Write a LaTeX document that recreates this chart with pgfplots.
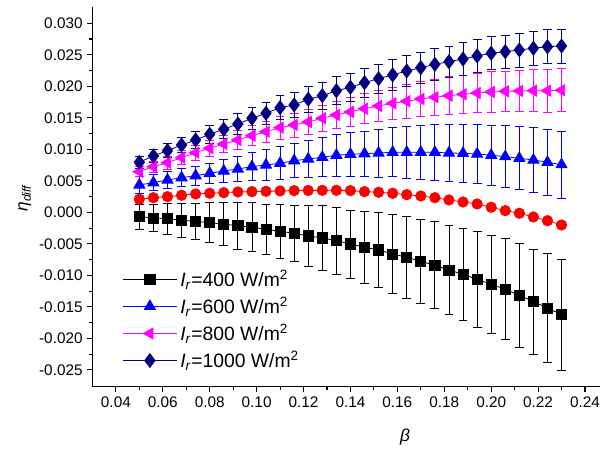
\documentclass[border=0pt]{standalone}
\usepackage{fontspec}
\setmainfont{Liberation Sans}
\usepackage{pgfplots}
\pgfplotsset{compat=1.18}
\usepackage{pgfplotstable}

\definecolor{cnavy}{RGB}{0,0,128}
\definecolor{cblue}{RGB}{0,0,255}
\definecolor{cmag}{RGB}{255,0,255}
\definecolor{cred}{RGB}{255,0,0}

% I_r = 400 W/m^2
\pgfplotstableread{
x y e
0.050 -0.00068 0.0020
0.056 -0.00089 0.0021
0.062 -0.00100 0.0025
0.068 -0.00126 0.0027
0.074 -0.00142 0.0028
0.080 -0.00163 0.0032
0.086 -0.00189 0.0034
0.092 -0.00210 0.0037
0.098 -0.00237 0.0039
0.104 -0.00268 0.0040
0.110 -0.00300 0.0043
0.116 -0.00332 0.0045
0.122 -0.00374 0.0048
0.128 -0.00406 0.0051
0.134 -0.00449 0.0053
0.140 -0.00501 0.0054
0.146 -0.00554 0.0057
0.152 -0.00596 0.0060
0.158 -0.00660 0.0063
0.164 -0.00713 0.0065
0.170 -0.00776 0.0067
0.176 -0.00839 0.0069
0.182 -0.00914 0.0071
0.188 -0.00982 0.0073
0.194 -0.01061 0.0076
0.200 -0.01140 0.0078
0.206 -0.01220 0.0080
0.212 -0.01315 0.0082
0.218 -0.01416 0.0083
0.224 -0.01517 0.0086
0.230 -0.01623 0.0088
}\tabA

% red series
\pgfplotstableread{
x y
0.050 0.00208
0.056 0.00233
0.062 0.00249
0.068 0.00271
0.074 0.00292
0.080 0.00303
0.086 0.00313
0.092 0.00324
0.098 0.00329
0.104 0.00334
0.110 0.00340
0.116 0.00345
0.122 0.00348
0.128 0.00350
0.134 0.00350
0.140 0.00345
0.146 0.00329
0.152 0.00319
0.158 0.00303
0.164 0.00281
0.170 0.00260
0.176 0.00233
0.182 0.00197
0.188 0.00165
0.194 0.00133
0.200 0.00081
0.206 0.00027
0.212 -0.00014
0.218 -0.00073
0.224 -0.00132
0.230 -0.00200
}\tabR

% I_r = 600 W/m^2
\pgfplotstableread{
x y e
0.050 0.00435 0.0013
0.056 0.00471 0.0013
0.062 0.00514 0.0014
0.068 0.00550 0.0014
0.074 0.00582 0.0015
0.080 0.00620 0.0016
0.086 0.00657 0.0018
0.092 0.00688 0.0020
0.098 0.00725 0.0022
0.104 0.00752 0.0024
0.110 0.00779 0.0026
0.116 0.00820 0.0027
0.122 0.00847 0.0029
0.128 0.00874 0.0031
0.134 0.00906 0.0033
0.140 0.00922 0.0035
0.146 0.00931 0.0036
0.152 0.00942 0.0038
0.158 0.00953 0.0039
0.164 0.00953 0.0041
0.170 0.00953 0.0043
0.176 0.00953 0.0044
0.182 0.00942 0.0045
0.188 0.00937 0.0046
0.194 0.00926 0.0047
0.200 0.00906 0.0048
0.206 0.00884 0.0049
0.212 0.00858 0.0050
0.218 0.00831 0.0051
0.224 0.00795 0.0052
0.230 0.00757 0.0053
}\tabB

% I_r = 800 W/m^2
\pgfplotstableread{
x y e
0.050 0.00646 0.0008
0.056 0.00725 0.0009
0.062 0.00788 0.0010
0.068 0.00868 0.0011
0.074 0.00947 0.0012
0.080 0.01017 0.0013
0.086 0.01085 0.0014
0.092 0.01148 0.0015
0.098 0.01217 0.0016
0.104 0.01280 0.0017
0.110 0.01344 0.0018
0.116 0.01386 0.0019
0.122 0.01434 0.0020
0.128 0.01493 0.0021
0.134 0.01545 0.0022
0.140 0.01593 0.0023
0.146 0.01645 0.0024
0.152 0.01688 0.0025
0.158 0.01730 0.0026
0.164 0.01762 0.0027
0.170 0.01799 0.0028
0.176 0.01826 0.0029
0.182 0.01851 0.0030
0.188 0.01873 0.0030
0.194 0.01894 0.0031
0.200 0.01910 0.0032
0.206 0.01921 0.0032
0.212 0.01926 0.0033
0.218 0.01930 0.0033
0.224 0.01930 0.0034
0.230 0.01937 0.0034
}\tabC

% I_r = 1000 W/m^2
\pgfplotstableread{
x y e
0.050 0.00795 0.0009
0.056 0.00895 0.0010
0.062 0.00979 0.0011
0.068 0.01069 0.0012
0.074 0.01148 0.0013
0.080 0.01239 0.0014
0.086 0.01318 0.0015
0.092 0.01402 0.0016
0.098 0.01493 0.0017
0.104 0.01572 0.0018
0.110 0.01661 0.0019
0.116 0.01704 0.0020
0.122 0.01794 0.0021
0.128 0.01851 0.0021
0.134 0.01930 0.0022
0.140 0.01984 0.0022
0.146 0.02057 0.0023
0.152 0.02121 0.0023
0.158 0.02180 0.0024
0.164 0.02243 0.0024
0.170 0.02295 0.0025
0.176 0.02349 0.0025
0.182 0.02390 0.0025
0.188 0.02433 0.0026
0.194 0.02481 0.0026
0.200 0.02524 0.0026
0.206 0.02549 0.0026
0.212 0.02576 0.0027
0.218 0.02603 0.0027
0.224 0.02628 0.0027
0.230 0.02640 0.0027
}\tabD

\begin{document}
\begin{tikzpicture}
\begin{axis}[
  name=ax,
  at={(0,0)}, anchor=south west,
  scale only axis,
  width=380.5pt, height=285pt,
  xmin=0.0301, xmax=0.2464,
  ymin=-0.02765, ymax=0.03263,
  axis x line*=bottom, axis y line*=left,
  axis line style={line width=0.9pt},
  xtick={0.04,0.06,...,0.241},
  ytick={-0.025,-0.020,...,0.031},
  minor x tick num=1, minor y tick num=1,
  tick align=outside,
  major tick length=4pt, minor tick length=2.5pt,
  every tick/.style={line width=0.8pt, black},
  /pgf/number format/assume math mode=true,
  xticklabel style={/pgf/number format/.cd, fixed, fixed zerofill, precision=2},
  yticklabel style={/pgf/number format/.cd, fixed, fixed zerofill, precision=3},
  ticklabel style={font=\fontsize{11.5}{13}\selectfont},
  scaled ticks=false,
  xlabel={\textit{β}},
  ylabel={\textit{η}\textsubscript{\textit{diff}}},
  label style={font=\fontsize{13}{15}\selectfont},
  xlabel style={at={(axis description cs:0.616,-0.132)}, anchor=center},
  ylabel style={at={(axis description cs:-0.134,0.497)}, anchor=center, rotate=0},
  legend style={draw=none, fill=none, at={(axis description cs:0.055,0.318)}, anchor=north west,
    font=\fontsize{14.5}{16}\selectfont, row sep=2.5pt, inner sep=1pt},
  legend cell align=left,
  legend image code/.code={\draw[mark repeat=2,mark phase=2] plot coordinates {(0cm,0cm) (0.72cm,0cm) (1.44cm,0cm)};},
  error bars/error bar style={line width=0.6pt},
  error bars/error mark options={rotate=90, mark size=3.3pt, line width=0.6pt},
]
\addplot[black, line width=0.6pt, mark=square*, mark size=3.8pt, mark options={solid},
  error bars/.cd, y dir=both, y explicit]
  table[x=x, y=y, y error=e] {\tabA};
\addlegendentry{\textit{I}\textsubscript{\textit{r}}=400 W/m\textsuperscript{2}}

\addplot[cred, line width=0.6pt, mark=*, mark size=3.9pt, forget plot]
  table[x=x, y=y] {\tabR};

\addplot[cblue, line width=0.6pt, mark=triangle*, mark size=4.8pt,
  error bars/.cd, y dir=both, y explicit]
  table[x=x, y=y, y error=e] {\tabB};
\addlegendentry{\textit{I}\textsubscript{\textit{r}}=600 W/m\textsuperscript{2}}

\addplot[cmag, line width=0.6pt, mark=triangle*, mark size=4.8pt, mark options={rotate=90},
  error bars/.cd, y dir=both, y explicit]
  table[x=x, y=y, y error=e] {\tabC};
\addlegendentry{\textit{I}\textsubscript{\textit{r}}=800 W/m\textsuperscript{2}}

\addplot[cnavy, line width=0.6pt, mark=diamond*, mark size=5.2pt,
  error bars/.cd, y dir=both, y explicit]
  table[x=x, y=y, y error=e] {\tabD};
\addlegendentry{\textit{I}\textsubscript{\textit{r}}=1000 W/m\textsuperscript{2}}
\end{axis}
\pgfresetboundingbox
\useasboundingbox (-69.5pt,-47.5pt) rectangle (382pt,290pt);
\end{tikzpicture}
\end{document}
